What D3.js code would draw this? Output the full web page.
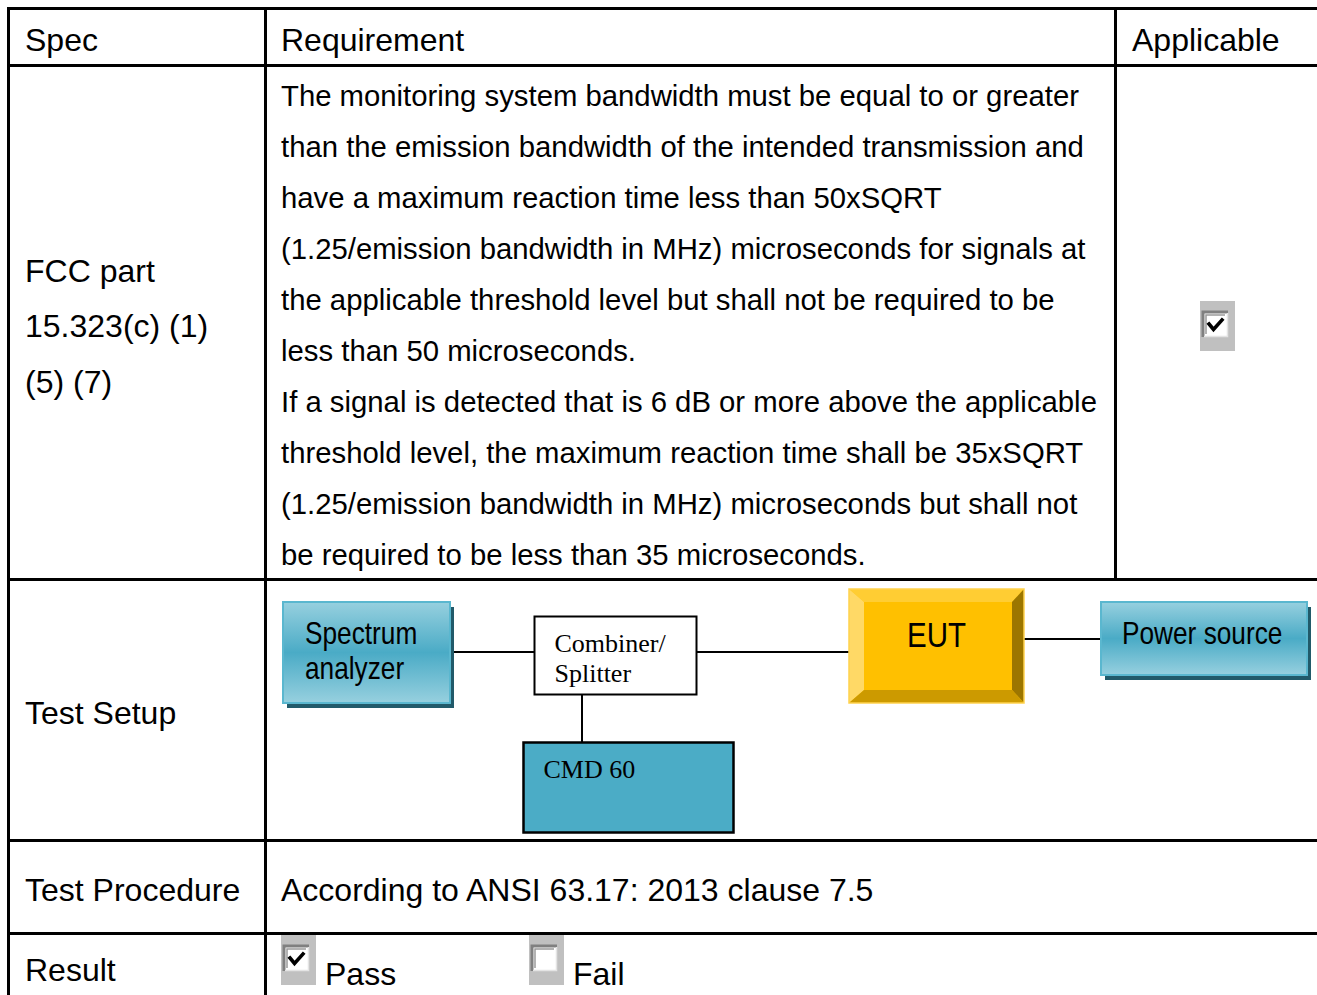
<!DOCTYPE html>
<html>
<head>
<meta charset="utf-8">
<script src="https://cdn.jsdelivr.net/npm/d3@7"></script>
<style>
  html, body { margin: 0; padding: 0; background: #fff; }
  svg { display: block; }
</style>
</head>
<body>
<svg id="c" width="1317" height="995"></svg>
<script>
// ---------------- DATA ----------------
const headerLabels = ["Spec", "Requirement", "Applicable"];
const specLines = ["FCC part", "15.323(c) (1)", "(5) (7)"];
const requirementLines = [
  "The monitoring system bandwidth must be equal to or greater",
  "than the emission bandwidth of the intended transmission and",
  "have a maximum reaction time less than 50xSQRT",
  "(1.25/emission bandwidth in MHz) microseconds for signals at",
  "the applicable threshold level but shall not be required to be",
  "less than 50 microseconds.",
  "If a signal is detected that is 6 dB or more above the applicable",
  "threshold level, the maximum reaction time shall be 35xSQRT",
  "(1.25/emission bandwidth in MHz) microseconds but shall not",
  "be required to be less than 35 microseconds."
];
const applicableChecked = [true];
const rowLabels = ["Test Setup", "Test Procedure", "Result"];
const procedureText = ["According to ANSI 63.17: 2013 clause 7.5"];
const resultOptions = ["Pass", "Fail"];
const resultChecked = [true, false];
const setupNodes = ["Spectrum analyzer", "Combiner/Splitter", "EUT", "Power source", "CMD 60"];
const setupNodeLines = [["Spectrum", "analyzer"], ["Combiner/", "Splitter"], ["EUT"], ["Power source"], ["CMD 60"]];
const setupNodeKinds = ["teal3d", "plain", "bevel", "teal3d", "flat"];
const setupLinks = [
  ["Spectrum analyzer", "Combiner/Splitter"],
  ["Combiner/Splitter", "EUT"],
  ["EUT", "Power source"],
  ["Combiner/Splitter", "CMD 60"]
];

// ---------------- LAYOUT ----------------
const W = 1317, H = 995;
const colX = [8.5, 265.5, 1115.5];          // vertical rules
const rowY = [8.5, 65.5, 579.5, 840.5, 933.5]; // horizontal rules
const sans = "'Liberation Sans', Arial, Helvetica, sans-serif";
const serif = "'Liberation Serif', 'Times New Roman', serif";
const narrow = "'Liberation Sans Narrow', 'Arial Narrow', 'Liberation Sans', sans-serif";

const nodeBox = {
  "Spectrum analyzer": {x: 283, y: 602, w: 167, h: 101, fs: 32, tx: 22, ty: [42, 77]},
  "Combiner/Splitter": {x: 534.5, y: 616.5, w: 162, h: 78, fs: 26, tx: 20, ty: [35, 65]},
  "EUT": {x: 849, y: 589, w: 175, h: 114, fs: 36, tx: 0, ty: [58], center: true},
  "Power source": {x: 1101, y: 602, w: 206, h: 73, fs: 32, tx: 21, ty: [42]},
  "CMD 60": {x: 523.5, y: 742.5, w: 210, h: 90, fs: 26, tx: 20, ty: [35]}
};
const linkAnchor = [
  {type: "h", y: 652},
  {type: "h", y: 652},
  {type: "h", y: 639},
  {type: "v", x: 582}
];

const svg = d3.select("#c");

// gradient for teal boxes
const defs = svg.append("defs");
const g1 = defs.append("linearGradient").attr("id", "teal").attr("x1", 0).attr("y1", 0).attr("x2", 0).attr("y2", 1);
[["0%", "#97d0df"], ["50%", "#4aabc6"], ["100%", "#97d0df"]].forEach(([o, c]) =>
  g1.append("stop").attr("offset", o).attr("stop-color", c));

// ---------------- TABLE RULES ----------------
const rules = svg.append("g").attr("stroke", "#000").attr("stroke-width", 3);
rowY.forEach(y => rules.append("line").attr("x1", 7).attr("x2", W).attr("y1", y).attr("y2", y));
rules.append("line").attr("x1", colX[0]).attr("x2", colX[0]).attr("y1", 7).attr("y2", H);
rules.append("line").attr("x1", colX[1]).attr("x2", colX[1]).attr("y1", 7).attr("y2", H);
rules.append("line").attr("x1", colX[2]).attr("x2", colX[2]).attr("y1", 7).attr("y2", rowY[2]);

// ---------------- TEXT ----------------
const txt = svg.append("g").attr("fill", "#000").attr("font-family", sans);
const headX = [25, 281, 1132];
txt.selectAll("text.head").data(headerLabels).join("text")
  .attr("class", "head").attr("x", (d, i) => headX[i]).attr("y", 50.5)
  .attr("font-size", 32).text(d => d);

const specY = d3.scaleLinear().domain([0, 1]).range([281.5, 337]);
txt.selectAll("text.spec").data(specLines).join("text")
  .attr("class", "spec").attr("x", 25).attr("y", (d, i) => specY(i))
  .attr("font-size", 32).text(d => d);

const reqY = d3.scaleLinear().domain([0, 1]).range([105.5, 156.6]);
txt.selectAll("text.req").data(requirementLines).join("text")
  .attr("class", "req").attr("x", 281).attr("y", (d, i) => reqY(i))
  .attr("font-size", 29.3).text(d => d);

const rowLabelY = [723.5, 900.5, 980.5];
txt.selectAll("text.rowl").data(rowLabels).join("text")
  .attr("class", "rowl").attr("x", 25).attr("y", (d, i) => rowLabelY[i])
  .attr("font-size", 32).text(d => d);

txt.selectAll("text.proc").data(procedureText).join("text")
  .attr("class", "proc").attr("x", 281).attr("y", 900.5)
  .attr("font-size", 32).text(d => d);

const resX = [281, 529];
txt.selectAll("text.res").data(resultOptions).join("text")
  .attr("class", "res").attr("x", (d, i) => resX[i] + 44).attr("y", 984.5)
  .attr("font-size", 32).text(d => d);

// ---------------- CHECKBOXES ----------------
function checkbox(x, y, checked) {
  const g = svg.append("g").attr("transform", `translate(${x},${y})`);
  g.append("rect").attr("width", 35).attr("height", 50).attr("fill", "#c0c0c0");
  const b = g.append("g").attr("transform", "translate(3,11)");
  b.append("rect").attr("width", 25).attr("height", 25).attr("fill", "#fff");
  b.append("path").attr("d", "M0,25 V0 H25").attr("fill", "none").attr("stroke", "#808080").attr("stroke-width", 3);
  b.append("path").attr("d", "M3,22 V3 H22").attr("fill", "none").attr("stroke", "#9a9a9a").attr("stroke-width", 1.5);
  b.append("path").attr("d", "M1,24.5 H24.5 V1").attr("fill", "none").attr("stroke", "#e4e4e4").attr("stroke-width", 1.5);
  if (checked) {
    b.append("path").attr("d", "M6,12 L10.5,17.5 L19,8").attr("fill", "none")
      .attr("stroke", "#000").attr("stroke-width", 3.6).attr("stroke-linecap", "square");
  }
}
applicableChecked.forEach(c => checkbox(1200, 301, c));
resultChecked.forEach((c, i) => checkbox(resX[i], 935, c));

// ---------------- SETUP DIAGRAM ----------------
const diag = svg.append("g");
// links
setupLinks.forEach(([a, b], i) => {
  const A = nodeBox[a], B = nodeBox[b], L = linkAnchor[i];
  if (L.type === "h") {
    diag.append("line").attr("x1", A.x + A.w).attr("x2", B.x).attr("y1", L.y).attr("y2", L.y)
      .attr("stroke", "#000").attr("stroke-width", 2);
  } else {
    diag.append("line").attr("x1", L.x).attr("x2", L.x).attr("y1", A.y + A.h).attr("y2", B.y)
      .attr("stroke", "#000").attr("stroke-width", 2);
  }
});

// check narrow font availability
const probe = svg.append("text").attr("font-size", 32).attr("font-family", "'Liberation Sans Narrow', 'Liberation Sans'").text("Power source");
const wN = probe.node().getComputedTextLength();
probe.attr("font-family", "'Liberation Sans'");
const wR = probe.node().getComputedTextLength();
probe.remove();
const needScale = wN > wR * 0.95;

setupNodes.forEach((name, i) => {
  const B = nodeBox[name], kind = setupNodeKinds[i];
  const g = diag.append("g");
  let font = narrow;
  if (kind === "teal3d") {
    g.append("rect").attr("x", B.x + 4).attr("y", B.y + 5).attr("width", B.w).attr("height", B.h).attr("fill", "#215a6a");
    g.append("rect").attr("x", B.x).attr("y", B.y).attr("width", B.w).attr("height", B.h)
      .attr("fill", "url(#teal)").attr("stroke", "#5ab7cf").attr("stroke-width", 2);
  } else if (kind === "plain") {
    font = serif;
    g.append("rect").attr("x", B.x).attr("y", B.y).attr("width", B.w).attr("height", B.h)
      .attr("fill", "#fff").attr("stroke", "#000").attr("stroke-width", 2);
  } else if (kind === "flat") {
    font = serif;
    g.append("rect").attr("x", B.x).attr("y", B.y).attr("width", B.w).attr("height", B.h)
      .attr("fill", "#4bacc6").attr("stroke", "#000").attr("stroke-width", 2.5);
  } else if (kind === "bevel") {
    const x0 = B.x, y0 = B.y, x1 = B.x + B.w, y1 = B.y + B.h;
    const l = 15, t = 13, r = 12, bt = 13;
    g.append("rect").attr("x", x0).attr("y", y0).attr("width", B.w).attr("height", B.h).attr("fill", "#ffc000");
    const poly = (pts, c) => g.append("polygon").attr("points", pts.map(p => p.join(",")).join(" ")).attr("fill", c);
    poly([[x0, y0], [x1, y0], [x1 - r, y0 + t], [x0 + l, y0 + t]], "#ffcd33");
    poly([[x0, y0], [x0 + l, y0 + t], [x0 + l, y1 - bt], [x0, y1]], "#ffd966");
    poly([[x1, y0], [x1, y1], [x1 - r, y1 - bt], [x1 - r, y0 + t]], "#9c7600");
    poly([[x0, y1], [x1, y1], [x1 - r, y1 - bt], [x0 + l, y1 - bt]], "#cc9a00");
    g.append("rect").attr("x", x0).attr("y", y0).attr("width", B.w).attr("height", B.h)
      .attr("fill", "none").attr("stroke", "#ffd24d").attr("stroke-width", 1.5);
  }
  setupNodeLines[i].forEach((line, j) => {
    const tx = B.center ? B.x + B.w / 2 : B.x + B.tx;
    const t = g.append("text").attr("x", tx).attr("y", B.y + B.ty[j])
      .attr("font-family", font).attr("font-size", B.fs).attr("fill", "#000")
      .attr("text-anchor", B.center ? "middle" : "start").text(line);
    if (font === narrow && needScale) {
      t.attr("transform", `translate(${tx},0) scale(0.82,1) translate(${-tx},0)`);
    }
  });
});
</script>
</body>
</html>
